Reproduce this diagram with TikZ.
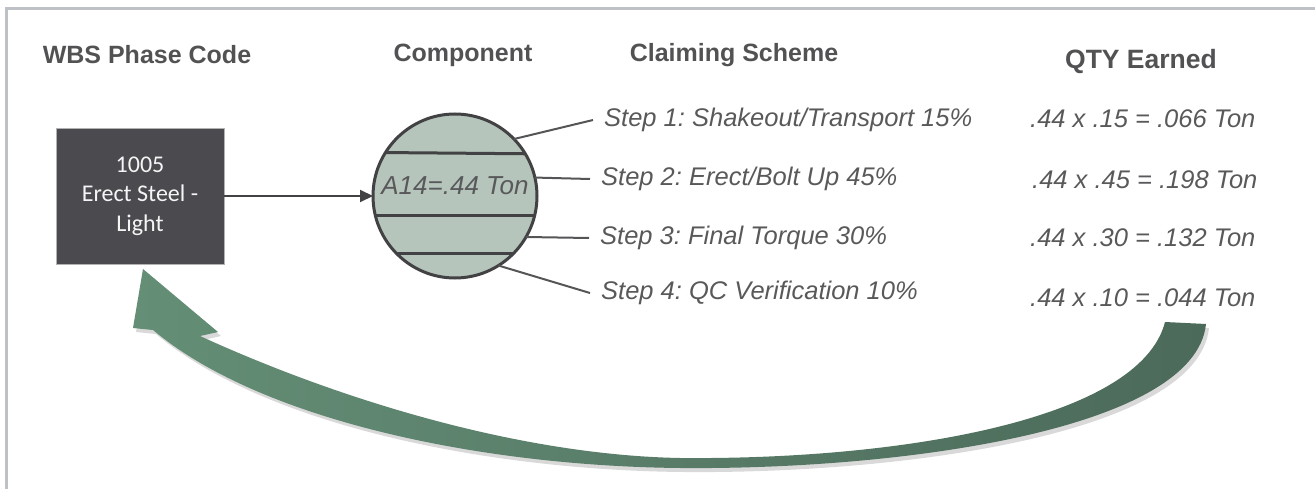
\documentclass[tikz,border=0pt]{standalone}
\usepackage{fontspec}
\setmainfont{Liberation Sans}
\newfontfamily\boxfont{Carlito}
\usepackage{tikz}
\usetikzlibrary{arrows.meta}
\frenchspacing

\definecolor{framegray}{RGB}{190,194,198}
\definecolor{boxgray}{RGB}{74,74,79}
\definecolor{discfill}{RGB}{182,197,188}
\definecolor{discline}{RGB}{66,66,68}
\definecolor{txtgray}{RGB}{89,89,91}
\definecolor{headgray}{RGB}{82,82,84}
\definecolor{arrowlight}{RGB}{100,142,118}
\definecolor{arrowdark}{RGB}{76,106,90}

\begin{document}
\begin{tikzpicture}[x=1pt, y=-1pt]
    \tikzstyle{header} = [font=\bfseries\fontsize{25}{30}\selectfont, text=headgray, inner sep=0pt]
    \tikzstyle{steptext} = [font=\itshape\fontsize{25.5}{30}\selectfont, text=txtgray, inner sep=0pt, anchor=west]
    \tikzstyle{phase} = [rectangle, draw=gray!60, fill=boxgray, text=white!92!gray, minimum width=168pt, minimum height=136pt, align=center, font=\boxfont\fontsize{24}{29.5}\selectfont]
    \tikzstyle{disc} = [circle, draw=discline, line width=3pt, fill=discfill, minimum size=164pt, inner sep=0pt, outer sep=0pt]
    \tikzstyle{leader} = [draw=discline!90, line width=2pt]
    \useasboundingbox (0,0) rectangle (1315,489);
    \draw[framegray, line width=3pt] (6,489) -- (6,9) -- (1315,9);
    \node[header] (hwbs) at (147,55) {WBS Phase Code};
    \node[header] (hcomp) at (463,55) {Component};
    \node[header] (hclaim) at (734,55) {Claiming Scheme};
    \node[header, font=\bfseries\fontsize{26.5}{30}\selectfont] (hqty) at (1141,62) {QTY Earned};
    \node[phase] (wbs) at (140,196) {1005\\Erect Steel -\\Light};
    \node[disc] (disc) at (455,196) {};
    \draw[discline, line width=3pt] (disc.148.4) -- (disc.31.6);
    \draw[discline, line width=3pt] (disc.194.1) -- (disc.-14.1);
    \draw[discline, line width=3pt] (disc.225) -- (disc.-45);
    \node[steptext, anchor=center, font=\itshape\fontsize{26}{30}\selectfont] (amount) at (455,186) {A14=.44 Ton};
    \draw[discline, line width=2pt, -{Triangle[length=13pt, width=12pt]}] (wbs) -- (disc);
    \node[steptext] (s1) at (604,120) {Step 1: Shakeout/Transport 15\%};
    \node[steptext] (s2) at (601,179) {Step 2: Erect/Bolt Up 45\%};
    \node[steptext] (s3) at (600,238) {Step 3: Final Torque 30\%};
    \node[steptext] (s4) at (601,293) {Step 4: QC Verification 10\%};
    \foreach \i/\ang in {1/44, 2/13, 3/-30, 4/-58}
        \draw[leader] (disc.\ang) -- ([xshift=-11pt]s\i.west);
    \node[steptext] (q1) at (1030,119) {.44 x .15 = .066 Ton};
    \node[steptext] (q2) at (1032,180) {.44 x .45 = .198 Ton};
    \node[steptext] (q3) at (1030,238) {.44 x .30 = .132 Ton};
    \node[steptext] (q4) at (1030,298) {.44 x .10 = .044 Ton};
    \fill[black, opacity=0.15] (156,334) -- (136,332) -- (146,273) -- (221,336) -- (203,340) .. controls (343,404) and (523,459) .. (683,462) .. controls (903,464) and (1143,424) .. (1168,326) -- (1209,328) .. controls (1198,434) and (903,474) .. (683,472) .. controls (483,470) and (263,424) .. (156,334) -- cycle;
    \shade[left color=arrowlight, right color=arrowdark] (153,330) -- (133,328) -- (143,269) -- (218,332) -- (200,336) .. controls (340,400) and (520,455) .. (680,458) .. controls (900,460) and (1140,420) .. (1165,322) -- (1206,324) .. controls (1195,430) and (900,470) .. (680,468) .. controls (480,466) and (260,420) .. (153,330) -- cycle;
\end{tikzpicture}
\end{document}
